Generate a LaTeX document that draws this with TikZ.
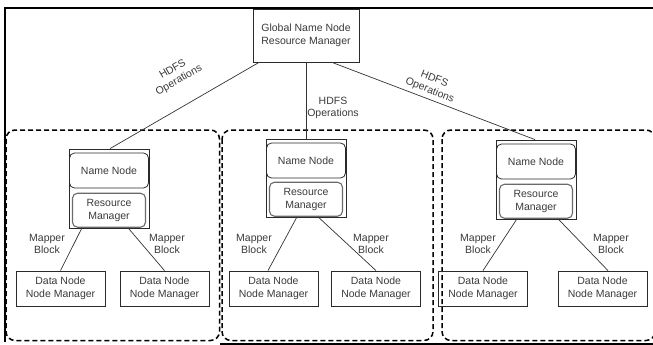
\documentclass[tikz,border=0pt]{standalone}
\usepackage{fontspec}
\setmainfont{Liberation Sans}
\definecolor{txt}{HTML}{3A3A3A}
\definecolor{edge}{HTML}{2A2A2A}
\definecolor{wire}{HTML}{333333}
\begin{document}
\begin{tikzpicture}[x=1pt,y=-1pt,
  every node/.style={font=\fontsize{10.5}{12.5}\selectfont, text=txt, align=center, inner sep=0pt},
  box/.style={draw=edge, line width=0.8pt, minimum width=89pt, minimum height=35pt},
  topbox/.style={draw=edge, line width=0.8pt, minimum width=106pt, minimum height=53pt},
  cont/.style={draw=edge, line width=0.8pt, minimum width=80pt, minimum height=79pt},
  nnbox/.style={draw=edge, line width=0.8pt, rounded corners=5pt, minimum width=79pt, minimum height=35pt},
  rmbox/.style={draw=edge!70, line width=1.1pt, rounded corners=5pt, minimum width=73pt, minimum height=34pt},
  grp/.style={draw=black, line width=1.5pt, dash pattern=on 5pt off 3pt, rounded corners=9pt},
  wirestyle/.style={draw=wire, line width=0.7pt},
  lbl/.style={font=\fontsize{10.5}{12.5}\selectfont}]
\useasboundingbox (0,0) rectangle (653,345);

% outer frame
\draw[black, line width=2pt] (653,8.3) -- (5.3,8.3) -- (5.3,342);
\draw[black, line width=2pt] (220,344.2) -- (653,344.2);

% dashed cluster outlines
\draw[grp] (6,130) rectangle (219.5,340.5);
\draw[grp] (222,130) rectangle (433,340.5);
\draw[grp] (442,130) rectangle (655,340.5);

% global master
\node[topbox, fill=white] (g) at (306,35.5) {Global Name Node\\Resource Manager};

% cluster masters
\node[cont, minimum height=79pt] (cl) at (109,188.5) {};
\node[cont, minimum height=78pt] (cm) at (306,178) {};
\node[cont, minimum height=79pt] (cr) at (536,179.5) {};

\foreach \c/\n/\r in {cl/nl/rl, cm/nm/rm, cr/nr/rr}{
  \node[nnbox, anchor=north] (\n) at ([yshift=-4pt]\c.north) {Name Node};
  \node[rmbox, anchor=south] (\r) at ([yshift=0.6pt]\c.south) {Resource\\Manager};
}

% workers
\node[box] (l1) at (60.5,288.5) {Data Node\\Node Manager};
\node[box] (l2) at (164.5,288.5) {Data Node\\Node Manager};
\node[box] (m1) at (273.5,288.5) {Data Node\\Node Manager};
\node[box] (m2) at (376,288.5) {Data Node\\Node Manager};
\node[box] (r1) at (483,288.5) {Data Node\\Node Manager};
\node[box] (r2) at (602.5,288.5) {Data Node\\Node Manager};

% HDFS links
\draw[wirestyle] ([xshift=-47pt]g.south) -- ([xshift=1pt]cl.north);
\draw[wirestyle] (g.south) -- (cm.north);
\draw[wirestyle] ([xshift=26pt]g.south) -- ([xshift=-1pt]cr.north);

\node[lbl, rotate=30] (h1) at (176,75) {HDFS\\Operations};
\node[lbl] (h2) at (333,108) {HDFS\\Operations};
\node[lbl, rotate=-22] (h3) at (432,85) {HDFS\\Operations};

% mapper links
\draw[wirestyle] ([xshift=-27pt]rl.south) -- (l1.north);
\draw[wirestyle] ([xshift=19pt]rl.south) -- (l2.north);
\draw[wirestyle] ([xshift=-9pt]rm.south) -- ([xshift=-5.5pt]m1.north);
\draw[wirestyle] ([xshift=12pt]rm.south) -- (m2.north);
\draw[wirestyle] ([xshift=-19pt]rr.south) -- (r1.north);
\draw[wirestyle] ([xshift=22pt]rr.south) -- ([xshift=5.5pt]r2.north);

\node[lbl] (b1) at (47,244) {Mapper\\Block};
\node[lbl] (b2) at (167,244) {Mapper\\Block};
\node[lbl] (b3) at (254,244) {Mapper\\Block};
\node[lbl] (b4) at (371,244) {Mapper\\Block};
\node[lbl] (b5) at (478,244) {Mapper\\Block};
\node[lbl] (b6) at (611,244) {Mapper\\Block};
\end{tikzpicture}
\end{document}
